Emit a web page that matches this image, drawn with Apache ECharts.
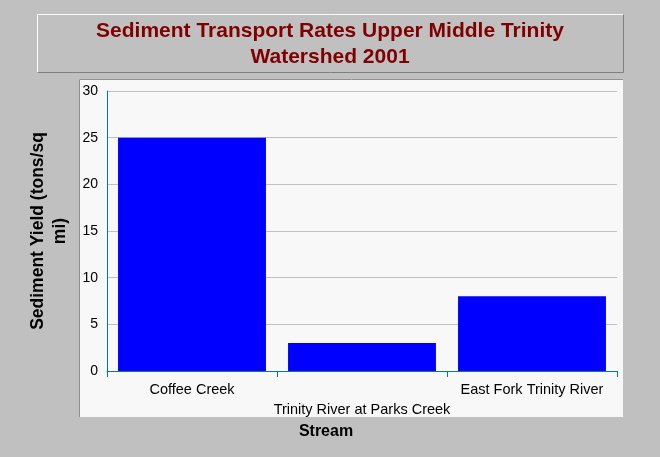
<!DOCTYPE html>
<html>
<head>
<meta charset="utf-8">
<script src="https://cdn.jsdelivr.net/npm/echarts@6/dist/echarts.min.js"></script>
<style>html,body{margin:0;padding:0;background:#c0c0c0;}#c{width:660px;height:457px;}</style>
</head>
<body>
<div id="c"></div>
<script>
const categories = ['Coffee Creek', 'Trinity River at Parks Creek', 'East Fork Trinity River'];
const yieldValues = [25, 3, 8];
const yTicks = [0, 5, 10, 15, 20, 25, 30];
const titleText = 'Sediment Transport Rates Upper Middle Trinity\nWatershed 2001';

const chart = echarts.init(document.getElementById('c'), null, {renderer: 'canvas'});
const font = 'Liberation Sans, Arial, sans-serif';
chart.setOption({
  backgroundColor: '#c0c0c0',
  animation: false,
  graphic: [
    {type: 'rect', z: -10, shape: {x: 37.5, y: 14.5, width: 586, height: 58}, style: {fill: '#c0c0c0', stroke: null}},
    {type: 'polyline', z: -9, shape: {points: [[37.5, 72.5], [37.5, 14.5], [623.5, 14.5]]}, style: {stroke: '#ffffff', fill: null, lineWidth: 1}},
    {type: 'polyline', z: -9, shape: {points: [[37.5, 72.5], [623.5, 72.5], [623.5, 14.5]]}, style: {stroke: '#808080', fill: null, lineWidth: 1}},
    {type: 'rect', z: -10, shape: {x: 79, y: 79, width: 544, height: 338}, style: {fill: '#f8f8f8'}},
    {type: 'polyline', z: -9, shape: {points: [[79.5, 417], [79.5, 79.5], [623, 79.5]]}, style: {stroke: '#909090', fill: null, lineWidth: 1}},
    {type: 'text', z: 10, x: 330, y: 44, style: {text: titleText, fill: '#800000', font: 'bold 21px ' + font, align: 'center', verticalAlign: 'middle', lineHeight: 26}},
    {type: 'text', z: 10, x: 326, y: 432, style: {text: 'Stream', fill: '#000', font: 'bold 16px ' + font, align: 'center', verticalAlign: 'middle'}}
  ],
  grid: {left: 107, right: 43, top: 91, bottom: 86},
  xAxis: {
    type: 'category',
    data: categories,
    axisLine: {lineStyle: {color: '#008080'}},
    axisTick: {show: true, length: 6, lineStyle: {color: '#008080'}},
    axisLabel: {
      interval: 0, color: '#000', fontFamily: font, fontSize: 14.5, margin: 9, lineHeight: 20,
      formatter: function (v, i) { return i % 2 ? '\n' + v : v; }
    }
  },
  yAxis: {
    type: 'value', min: 0, max: 30, interval: 5,
    name: 'Sediment Yield (tons/sq\nmi)',
    nameLocation: 'middle', nameGap: 34, nameRotate: 90,
    nameTextStyle: {color: '#000', fontFamily: font, fontSize: 17.5, fontWeight: 'bold', lineHeight: 22},
    axisLine: {show: true, lineStyle: {color: '#008080'}},
    axisTick: {show: false},
    axisLabel: {color: '#000', fontFamily: font, fontSize: 14, margin: 9,
      formatter: function (v) { return yTicks.indexOf(v) >= 0 ? String(v) : ''; }},
    splitLine: {lineStyle: {color: '#c0c0c0'}}
  },
  series: [{
    type: 'bar', data: yieldValues, barCategoryGap: '13%',
    itemStyle: {color: '#0000ff'}
  }]
});
</script>
</body>
</html>
